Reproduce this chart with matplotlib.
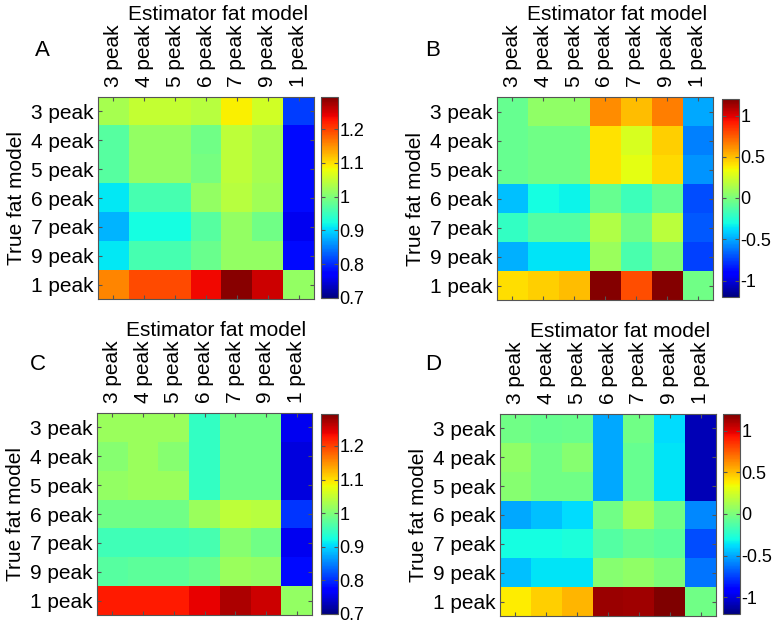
import numpy as np
import matplotlib
matplotlib.use("Agg")
import matplotlib.pyplot as plt

plt.rcParams['font.family'] = ['Liberation Sans', 'DejaVu Sans']

models = ["3 peak", "4 peak", "5 peak", "6 peak", "7 peak", "9 peak", "1 peak"]

# rows: true fat model, cols: estimator fat model
vals_a = [
    [1.03, 1.05, 1.05, 1.04, 1.09, 1.06, 0.81],
    [0.97, 1.015, 1.015, 0.99, 1.045, 1.03, 0.78],
    [0.97, 1.015, 1.015, 0.995, 1.045, 1.03, 0.78],
    [0.91, 0.96, 0.96, 1.015, 1.04, 1.025, 0.78],
    [0.88, 0.925, 0.925, 0.97, 1.015, 0.99, 0.76],
    [0.91, 0.96, 0.96, 0.985, 1.015, 1.015, 0.78],
    [1.157, 1.195, 1.195, 1.235, 1.29, 1.255, 1.015],
]
vals_b = [
    [-0.06, 0.06, 0.06, 0.62, 0.50, 0.66, -0.50],
    [-0.06, -0.03, -0.03, 0.41, 0.27, 0.45, -0.60],
    [-0.06, -0.03, -0.03, 0.41, 0.30, 0.43, -0.55],
    [-0.45, -0.30, -0.32, -0.06, -0.18, -0.06, -0.72],
    [-0.21, -0.12, -0.12, 0.15, -0.03, 0.18, -0.69],
    [-0.48, -0.36, -0.36, 0.09, -0.15, 0.0, -0.75],
    [0.42, 0.45, 0.50, 1.19, 0.78, 1.19, -0.03],
]
vals_c = [
    [1.02, 1.02, 1.02, 0.946, 0.99, 0.99, 0.76],
    [1.005, 1.02, 1.005, 0.946, 0.99, 0.99, 0.75],
    [1.015, 1.02, 1.02, 0.946, 0.99, 0.99, 0.75],
    [0.99, 0.99, 0.99, 1.02, 1.045, 1.04, 0.805],
    [0.955, 0.955, 0.955, 0.96, 1.005, 0.99, 0.76],
    [0.97, 0.975, 0.975, 0.985, 1.02, 1.015, 0.78],
    [1.225, 1.225, 1.225, 1.24, 1.27, 1.255, 1.015],
]
vals_d = [
    [-0.03, -0.06, -0.05, -0.50, -0.03, -0.38, -1.08],
    [0.06, -0.03, 0.03, -0.50, -0.06, -0.36, -1.08],
    [0.03, -0.03, -0.03, -0.50, -0.06, -0.36, -1.08],
    [-0.50, -0.45, -0.38, -0.03, 0.12, -0.03, -0.58],
    [-0.30, -0.30, -0.28, -0.12, -0.06, -0.09, -0.72],
    [-0.45, -0.36, -0.36, 0.03, 0.06, 0.0, -0.62],
    [0.38, 0.45, 0.52, 1.14, 1.13, 1.20, -0.03],
]

ratio_ticks = [0.7, 0.8, 0.9, 1.0, 1.1, 1.2]
ratio_ticklabels = ["0.7", "0.8", "0.9", "1", "1.1", "1.2"]
diff_ticks = [-1, -0.5, 0, 0.5, 1]
diff_ticklabels = ["-1", "-0.5", "0", "0.5", "1"]

W, H = 776, 628
fig = plt.figure(figsize=(W / 100, H / 100), dpi=100)


def px(x0, y0, x1, y1):
    return [x0 / W, 1 - y1 / H, (x1 - x0) / W, (y1 - y0) / H]


panels = [
    ("A", vals_a, (0.7, 1.295), ratio_ticks, ratio_ticklabels,
     (98, 97, 314, 299), (321, 97, 338, 298), (42, 51)),
    ("B", vals_b, (-1.2, 1.2), diff_ticks, diff_ticklabels,
     (497, 97, 713, 300), (722, 99, 739, 297), (433, 51)),
    ("C", vals_c, (0.7, 1.295), ratio_ticks, ratio_ticklabels,
     (97, 413, 312, 615), (321, 414, 338, 614), (38, 365)),
    ("D", vals_d, (-1.2, 1.2), diff_ticks, diff_ticklabels,
     (500, 414, 716, 616), (723, 414, 740, 614), (433, 365)),
]

spine_col = "#555555"
for letter, vals, lims, cticks, cticklabels, hbox, cbox, lpos in panels:
    ax = fig.add_axes(px(*hbox))
    im = ax.imshow(np.array(vals), cmap="jet", vmin=lims[0], vmax=lims[1],
                   aspect="auto", interpolation="nearest")
    ax.set_xticks(range(len(models)))
    ax.set_yticks(range(len(models)))
    ax.set_xticklabels(models, rotation=90, fontsize=15)
    ax.set_yticklabels(models, fontsize=15)
    ax.tick_params(direction="in", length=3, top=True, bottom=True,
                   left=True, right=True, labeltop=True, labelbottom=False,
                   color=spine_col)
    ax.tick_params(axis="x", pad=7)
    ax.tick_params(axis="y", pad=3)
    for s in ax.spines.values():
        s.set_color(spine_col)
        s.set_linewidth(0.8)
    ax.xaxis.set_label_position("top")
    ax.set_xlabel("Estimator fat model", fontsize=15)
    ax.xaxis.set_label_coords(0.555, 1.38)
    ax.set_ylabel("True fat model", fontsize=15)
    ax.yaxis.set_label_coords(-0.335, 0.5)

    cax = fig.add_axes(px(*cbox))
    cb = fig.colorbar(im, cax=cax)
    cb.set_ticks(cticks)
    cb.set_ticklabels(cticklabels)
    cax.tick_params(direction="in", length=3, left=True, right=True,
                    labelsize=13, pad=1, color=spine_col)
    cb.outline.set_edgecolor(spine_col)
    cb.outline.set_linewidth(0.8)

    fig.text(lpos[0] / W, 1 - lpos[1] / H, letter, fontsize=16,
             ha="center", va="center")

fig.savefig("out.png", dpi=100)
